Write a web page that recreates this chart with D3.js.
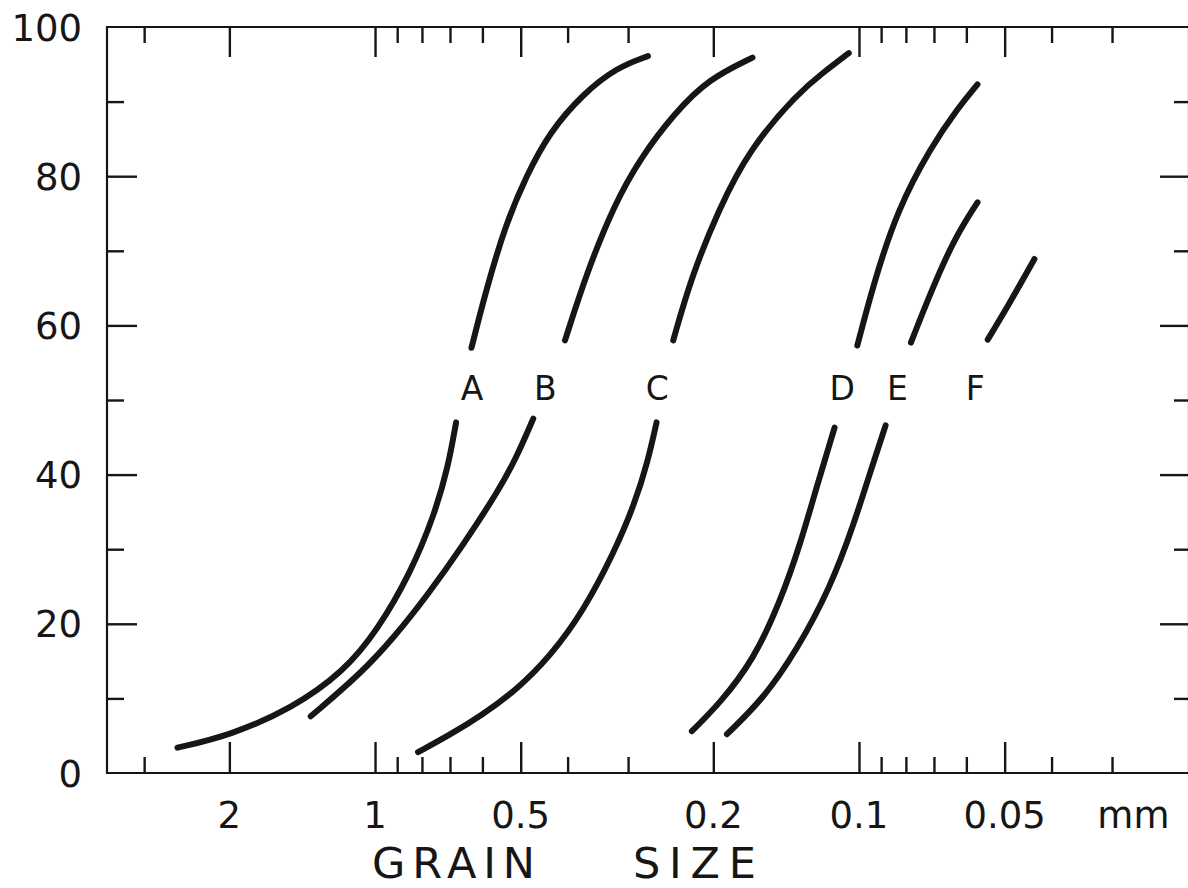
<!DOCTYPE html>
<html>
<head>
<meta charset="utf-8">
<script src="https://cdn.jsdelivr.net/npm/d3@7"></script>
<style>
  html, body { margin: 0; padding: 0; background: #ffffff; }
  svg { display: block; }
  text { font-family: "DejaVu Sans", sans-serif; fill: #161616; }
</style>
</head>
<body>
<svg id="chart" width="1188" height="888"></svg>
<script>
// Grain-size cumulative curves, percent finer vs. grain diameter (mm, log scale, coarse on the left)

// Axis ticks
const xMajorTicks = [2, 1, 0.5, 0.2, 0.1, 0.05];
const xMajorLabels = ["2", "1", "0.5", "0.2", "0.1", "0.05"];
const xMinorTicks = [3, 0.9, 0.8, 0.7, 0.6, 0.4, 0.3, 0.09, 0.08, 0.07, 0.06, 0.04, 0.03];
const yMajorTicks = [0, 20, 40, 60, 80, 100];
const yMinorTicks = [10, 30, 50, 70, 90];
const xUnit = "mm";
const xUnitAt = 0.0271;          // grain size (mm) under which the unit is written
const xTitleWords = ["GRAIN", "SIZE"];

// Sample names
const sampleNames = ["A", "B", "C", "D", "E", "F"];

// Each curve: [grain size mm, cumulative percent]; split below and above the name row
const curveA_lower = [[2.56, 3.4], [2.0, 5.0], [1.48, 8.7], [1.16, 13.6], [0.989, 19.1], [0.843, 26.9], [0.753, 34.7], [0.706, 41.1], [0.680, 47.0]];
const curveA_upper = [[0.632, 57.0], [0.591, 64.5], [0.537, 73.6], [0.487, 80.0], [0.436, 85.9], [0.371, 91.1], [0.316, 94.6], [0.273, 96.1]];

const curveB_lower = [[1.358, 7.6], [1.071, 13.3], [0.913, 18.2], [0.778, 23.9], [0.660, 30.4], [0.554, 38.0], [0.511, 42.2], [0.471, 47.5]];
const curveB_upper = [[0.405, 58.0], [0.365, 67.1], [0.321, 76.1], [0.282, 82.6], [0.240, 88.5], [0.205, 93.0], [0.166, 95.9]];

const curveC_lower = [[0.815, 2.8], [0.705, 5.0], [0.600, 7.8], [0.511, 11.1], [0.435, 15.6], [0.371, 21.7], [0.321, 29.5], [0.291, 36.0], [0.273, 41.8], [0.262, 47.0]];
const curveC_upper = [[0.242, 58.0], [0.222, 66.5], [0.195, 75.5], [0.169, 83.5], [0.134, 91.1], [0.118, 94.0], [0.105, 96.5]];

const curveD_lower = [[0.2215, 5.6], [0.1935, 9.4], [0.165, 15.2], [0.1454, 23.0], [0.132, 30.8], [0.122, 38.6], [0.1123, 46.3]];
const curveD_upper = [[0.1008, 57.3], [0.0931, 65.8], [0.0833, 75.5], [0.071, 83.9], [0.0625, 89.1], [0.0569, 92.3]];

const curveE_lower = [[0.1874, 5.2], [0.1574, 10.0], [0.1343, 16.5], [0.1145, 24.9], [0.1024, 33.4], [0.0946, 40.5], [0.0881, 46.6]];
const curveE_upper = [[0.0781, 57.7], [0.071, 64.5], [0.0636, 71.6], [0.0569, 76.5]];

const curveF_upper = [[0.0542, 58.1], [0.0493, 62.5], [0.0434, 68.9]];

// Where each sample name sits (grain size mm) and the shared percent level of that row
const nameSizes = [0.630, 0.445, 0.261, 0.1083, 0.0833, 0.0575];
const namePercent = 51.6;

const curveSegments = [
  curveA_lower, curveA_upper,
  curveB_lower, curveB_upper,
  curveC_lower, curveC_upper,
  curveD_lower, curveD_upper,
  curveE_lower, curveE_upper,
  curveF_upper
];

// Layout
const plot = { left: 107, right: 1189, top: 27, bottom: 773 };
const ink = "#161616";

const svg = d3.select("#chart");

const x = d3.scaleLog().domain([3.58, 0.0208]).range([plot.left, plot.right]);
const y = d3.scaleLinear().domain([0, 100]).range([plot.bottom, plot.top]);

// Frame: left, bottom and top lines (the right edge carries ticks only)
const frame = svg.append("g").attr("stroke", ink).attr("stroke-width", 2.2).attr("fill", "none");
frame.append("line").attr("x1", plot.left).attr("x2", plot.left).attr("y1", plot.top - 1).attr("y2", plot.bottom + 1);
frame.append("line").attr("x1", plot.left).attr("x2", plot.right).attr("y1", plot.bottom).attr("y2", plot.bottom);
frame.append("line").attr("x1", plot.left).attr("x2", plot.right).attr("y1", plot.top).attr("y2", plot.top);
frame.append("line").attr("x1", plot.right).attr("x2", plot.right).attr("y1", plot.top).attr("y2", plot.bottom);

// Inward-facing ticks via d3 axes, with the domain path removed
function styleAxis(g) {
  g.select(".domain").remove();
  g.selectAll(".tick line").attr("stroke", ink).attr("stroke-width", 2.4);
  g.selectAll(".tick text").remove();
}

// Bottom ticks (pointing up)
svg.append("g").attr("transform", `translate(0,${plot.bottom})`)
  .call(d3.axisTop(x).tickValues(xMajorTicks).tickSize(31)).call(styleAxis);
svg.append("g").attr("transform", `translate(0,${plot.bottom})`)
  .call(d3.axisTop(x).tickValues(xMinorTicks).tickSize(16)).call(styleAxis);
// Top ticks (pointing down)
svg.append("g").attr("transform", `translate(0,${plot.top})`)
  .call(d3.axisBottom(x).tickValues(xMajorTicks).tickSize(30)).call(styleAxis);
svg.append("g").attr("transform", `translate(0,${plot.top})`)
  .call(d3.axisBottom(x).tickValues(xMinorTicks).tickSize(16)).call(styleAxis);
// Left ticks (pointing right)
svg.append("g").attr("transform", `translate(${plot.left},0)`)
  .call(d3.axisRight(y).tickValues(yMajorTicks.filter(v => v > 0 && v < 100)).tickSize(30)).call(styleAxis);
svg.append("g").attr("transform", `translate(${plot.left},0)`)
  .call(d3.axisRight(y).tickValues(yMinorTicks).tickSize(17)).call(styleAxis);
// Right ticks (pointing left)
svg.append("g").attr("transform", `translate(${plot.right},0)`)
  .call(d3.axisLeft(y).tickValues(yMajorTicks.filter(v => v > 0 && v < 100)).tickSize(29)).call(styleAxis);
svg.append("g").attr("transform", `translate(${plot.right},0)`)
  .call(d3.axisLeft(y).tickValues(yMinorTicks).tickSize(15)).call(styleAxis);

// Y tick labels
svg.append("g").selectAll("text")
  .data(yMajorTicks)
  .join("text")
  .attr("x", 82)
  .attr("y", d => y(d) + 13.5)
  .attr("text-anchor", "end")
  .attr("font-size", 37)
  .text(d => d);

// X tick labels and unit
svg.append("g").selectAll("text")
  .data(xMajorTicks)
  .join("text")
  .attr("x", d => x(d))
  .attr("y", 828)
  .attr("text-anchor", "middle")
  .attr("font-size", 37)
  .text((d, i) => xMajorLabels[i]);

svg.append("text")
  .attr("x", x(xUnitAt))
  .attr("y", 828)
  .attr("text-anchor", "middle")
  .attr("font-size", 37)
  .text(xUnit);

// Axis title, two spaced words
svg.append("text")
  .attr("x", 372).attr("y", 878)
  .attr("font-size", 43)
  .attr("textLength", 163).attr("lengthAdjust", "spacing")
  .text(xTitleWords[0]);
svg.append("text")
  .attr("x", 633).attr("y", 878)
  .attr("font-size", 43)
  .attr("textLength", 123).attr("lengthAdjust", "spacing")
  .text(xTitleWords[1]);

// Curves
const line = d3.line()
  .x(d => x(d[0]))
  .y(d => y(d[1]))
  .curve(d3.curveBasis);

svg.append("g")
  .attr("fill", "none")
  .attr("stroke", ink)
  .attr("stroke-width", 6)
  .attr("stroke-linecap", "round")
  .attr("stroke-linejoin", "round")
  .selectAll("path")
  .data(curveSegments)
  .join("path")
  .attr("d", line);

// Sample names
svg.append("g").selectAll("text")
  .data(sampleNames)
  .join("text")
  .attr("x", (d, i) => x(nameSizes[i]))
  .attr("y", y(namePercent) + 12)
  .attr("text-anchor", "middle")
  .attr("font-size", 33)
  .text(d => d);
</script>
</body>
</html>
